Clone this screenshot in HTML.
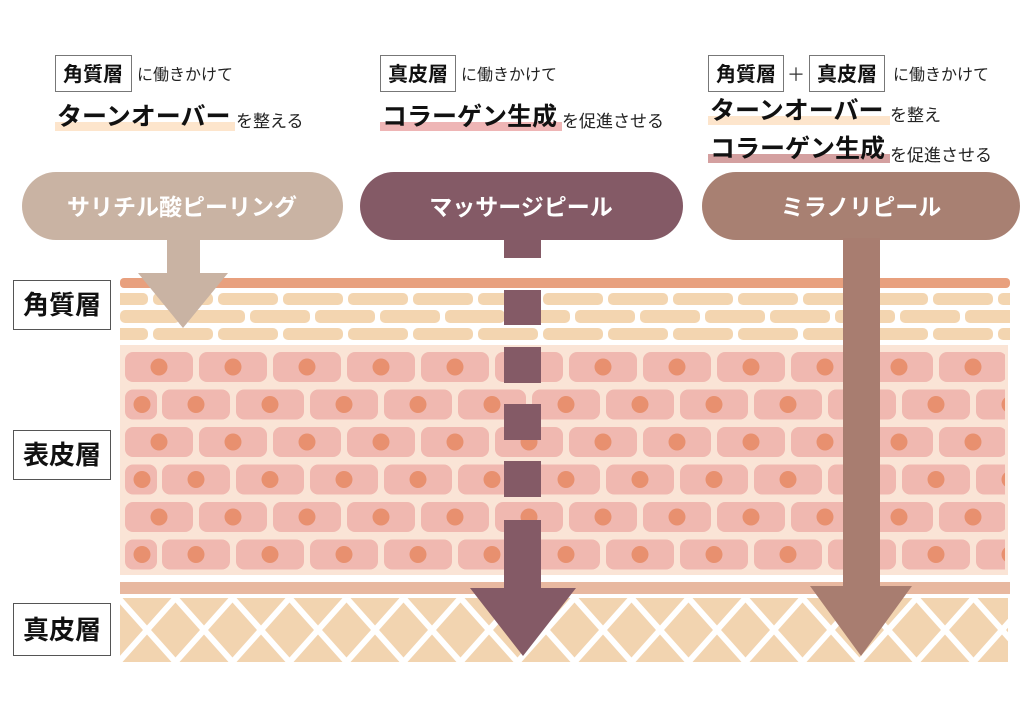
<!DOCTYPE html>
<html><head><meta charset="utf-8"><style>
html,body{margin:0;padding:0;background:#fff;}
svg{display:block;font-family:"Liberation Sans","Noto Sans CJK JP",sans-serif;}
</style></head><body>
<svg width="1024" height="724" viewBox="0 0 1024 724" xmlns="http://www.w3.org/2000/svg">
<defs>
<pattern id="brickA" x="153" y="0" width="65" height="724" patternUnits="userSpaceOnUse">
<rect x="0" y="293" width="60" height="12" rx="5" fill="#f3d5b0"/>
<rect x="0" y="328" width="60" height="12" rx="5" fill="#f3d5b0"/>
</pattern>
<pattern id="brickB" x="185" y="0" width="65" height="724" patternUnits="userSpaceOnUse">
<rect x="0" y="310" width="60" height="13" rx="5" fill="#f3d5b0"/>
</pattern>
<pattern id="cells" x="125" y="352" width="74" height="75" patternUnits="userSpaceOnUse">
<rect x="0" y="0" width="68" height="30" rx="8" fill="#f0b8b0"/>
<circle cx="34" cy="15" r="8.5" fill="#e8906f"/>
<rect x="37" y="37.5" width="68" height="30" rx="8" fill="#f0b8b0"/>
<circle cx="71" cy="52.5" r="8.5" fill="#e8906f"/>
<rect x="-37" y="37.5" width="68" height="30" rx="8" fill="#f0b8b0"/>
<circle cx="-3" cy="52.5" r="8.5" fill="#e8906f"/>
</pattern>
<pattern id="lattice" x="118.5" y="598" width="57" height="64" patternUnits="userSpaceOnUse">
<rect width="57" height="64" fill="#f2d4b0"/>
<line x1="0" y1="0" x2="57" y2="64" stroke="#fff" stroke-width="6"/>
<line x1="57" y1="0" x2="0" y2="64" stroke="#fff" stroke-width="6"/>
</pattern>
</defs>

<!-- top text -->
<rect x="55.5" y="55.5" width="76" height="36" fill="#fff" stroke="#777"/>
<text x="93" y="81" font-size="20" font-weight="bold" text-anchor="middle" fill="#111">角質層</text>
<text x="137" y="80" font-size="16" fill="#222">に働きかけて</text>
<rect x="55" y="122" width="180" height="9" fill="#fde5cc"/>
<text x="57" y="125" font-size="25" font-weight="bold" fill="#111">ターンオーバー</text>
<text x="236" y="127" font-size="17" fill="#222">を整える</text>

<rect x="380.5" y="55.5" width="75" height="36" fill="#fff" stroke="#777"/>
<text x="418" y="81" font-size="20" font-weight="bold" text-anchor="middle" fill="#111">真皮層</text>
<text x="461" y="80" font-size="16" fill="#222">に働きかけて</text>
<rect x="380" y="122" width="182" height="9" fill="#eeb5b5"/>
<text x="382" y="125" font-size="25" font-weight="bold" fill="#111">コラーゲン生成</text>
<text x="562" y="127" font-size="17" fill="#222">を促進させる</text>

<rect x="708.5" y="55.5" width="75" height="36" fill="#fff" stroke="#777"/>
<text x="746" y="81" font-size="20" font-weight="bold" text-anchor="middle" fill="#111">角質層</text>
<text x="796" y="81" font-size="18" text-anchor="middle" fill="#333">＋</text>
<rect x="809.5" y="55.5" width="75" height="36" fill="#fff" stroke="#777"/>
<text x="847" y="81" font-size="20" font-weight="bold" text-anchor="middle" fill="#111">真皮層</text>
<text x="893" y="80" font-size="16" fill="#222">に働きかけて</text>
<rect x="708" y="116" width="182" height="9" fill="#fde5cc"/>
<text x="710" y="119" font-size="25" font-weight="bold" fill="#111">ターンオーバー</text>
<text x="890" y="121" font-size="17" fill="#222">を整え</text>
<rect x="708" y="154" width="182" height="9" fill="#d4a0a0"/>
<text x="710" y="157" font-size="25" font-weight="bold" fill="#111">コラーゲン生成</text>
<text x="890" y="161" font-size="17" fill="#222">を促進させる</text>

<!-- pills -->
<rect x="22" y="172" width="321" height="68" rx="34" fill="#c9b3a3"/>
<text x="182" y="215" font-size="23" font-weight="bold" text-anchor="middle" fill="#fff">サリチル酸ピーリング</text>
<rect x="360" y="172" width="323" height="68" rx="34" fill="#845a66"/>
<text x="521" y="215" font-size="23" font-weight="bold" text-anchor="middle" fill="#fff">マッサージピール</text>
<rect x="702" y="172" width="318" height="68" rx="34" fill="#a88072"/>
<text x="861" y="215" font-size="23" font-weight="bold" text-anchor="middle" fill="#fff">ミラノリピール</text>

<!-- skin layers -->
<rect x="120" y="278" width="890" height="10" rx="4" fill="#e8a07e"/>
<rect x="120" y="293" width="27" height="12" rx="5" fill="#f3d5b0"/>
<rect x="120" y="328" width="27" height="12" rx="5" fill="#f3d5b0"/>
<rect x="120" y="290" width="890" height="52" fill="url(#brickA)"/>
<rect x="120" y="310" width="60" height="13" rx="5" fill="#f3d5b0"/>
<rect x="185" y="290" width="825" height="52" fill="url(#brickB)"/>
<rect x="120" y="345" width="888" height="230" fill="#fae4d6"/>
<rect x="125" y="349" width="880" height="224" fill="url(#cells)"/>
<g>
<rect x="120" y="388" width="38" height="33" fill="#fae4d6"/>
<rect x="120" y="463" width="38" height="33" fill="#fae4d6"/>
<rect x="120" y="538" width="38" height="33" fill="#fae4d6"/>
<rect x="125" y="389.5" width="32" height="30" rx="8" fill="#f0b8b0"/><circle cx="142" cy="404.5" r="8.5" fill="#e8906f"/>
<rect x="125" y="464.5" width="32" height="30" rx="8" fill="#f0b8b0"/><circle cx="142" cy="479.5" r="8.5" fill="#e8906f"/>
<rect x="125" y="539.5" width="32" height="30" rx="8" fill="#f0b8b0"/><circle cx="142" cy="554.5" r="8.5" fill="#e8906f"/>
</g>
<rect x="120" y="582" width="890" height="12" fill="#e8b8a0"/>
<rect x="120" y="598" width="888" height="64" fill="url(#lattice)"/>

<!-- arrows -->
<rect x="167" y="238" width="33" height="36" fill="#c9b3a3"/>
<polygon points="138,273 228,273 183,328" fill="#c9b3a3"/>

<g fill="#845a66">
<rect x="504" y="238" width="37" height="20"/>
<rect x="504" y="290" width="37" height="35"/>
<rect x="504" y="347" width="37" height="36"/>
<rect x="504" y="404" width="37" height="36"/>
<rect x="504" y="461" width="37" height="36"/>
<rect x="504" y="520" width="37" height="70"/>
<polygon points="470,588 576,588 523,656"/>
</g>

<rect x="843" y="238" width="37" height="350" fill="#a87d70"/>
<polygon points="810,586 912,586 861,656" fill="#a87d70"/>

<!-- layer labels -->
<rect x="13.5" y="280.5" width="97" height="49" fill="#fff" stroke="#555"/>
<text x="62" y="314" font-size="26" font-weight="bold" text-anchor="middle" fill="#111">角質層</text>
<rect x="13.5" y="430.5" width="97" height="49" fill="#fff" stroke="#555"/>
<text x="62" y="464" font-size="26" font-weight="bold" text-anchor="middle" fill="#111">表皮層</text>
<rect x="13.5" y="603.5" width="97" height="52" fill="#fff" stroke="#555"/>
<text x="62" y="639" font-size="26" font-weight="bold" text-anchor="middle" fill="#111">真皮層</text>
</svg>
</body></html>
